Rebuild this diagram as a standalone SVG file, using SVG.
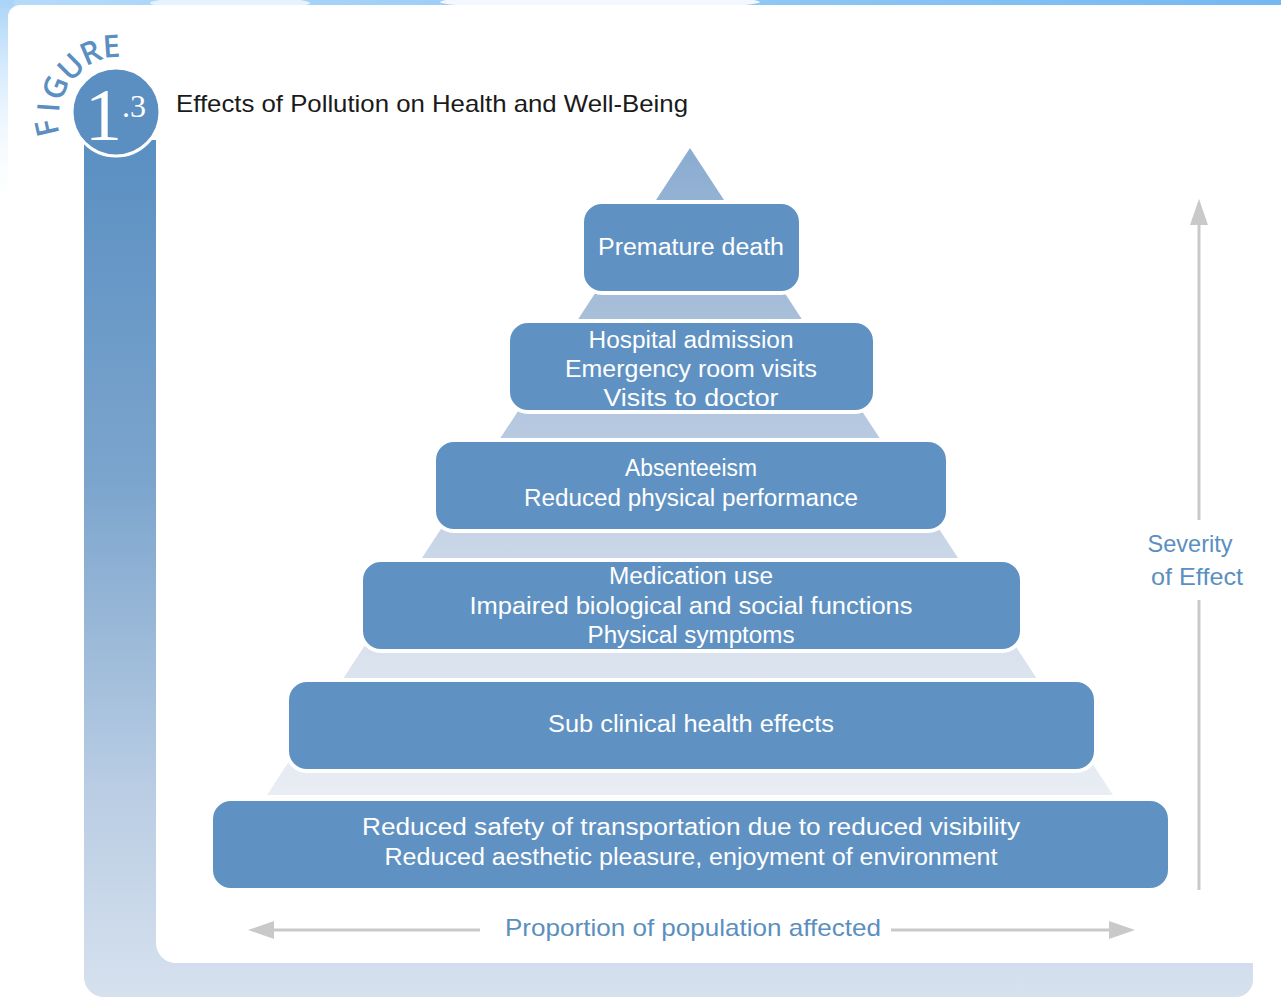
<svg xmlns="http://www.w3.org/2000/svg" width="1281" height="997" viewBox="0 0 1281 997">
  <defs>
    <linearGradient id="sky" x1="0" y1="0" x2="1" y2="0">
      <stop offset="0" stop-color="#b5dbfa"/>
      <stop offset="1" stop-color="#74b8f2"/>
    </linearGradient>
    <linearGradient id="skyLeft" x1="0" y1="0" x2="0" y2="1">
      <stop offset="0" stop-color="#a9d4f8"/>
      <stop offset="1" stop-color="#ffffff" stop-opacity="0"/>
    </linearGradient>
    <linearGradient id="bar" gradientUnits="userSpaceOnUse" x1="0" y1="140" x2="0" y2="997">
      <stop offset="0" stop-color="#5a8fc2"/>
      <stop offset="0.4" stop-color="#7ca5cd"/>
      <stop offset="0.75" stop-color="#b8cce3"/>
      <stop offset="1" stop-color="#d6e1ee"/>
    </linearGradient>
    <linearGradient id="pyr" gradientUnits="userSpaceOnUse" x1="0" y1="148" x2="0" y2="795">
      <stop offset="0" stop-color="#8aacd1"/>
      <stop offset="0.25" stop-color="#a7bed9"/>
      <stop offset="0.5" stop-color="#bccde2"/>
      <stop offset="0.75" stop-color="#d7e0ed"/>
      <stop offset="1" stop-color="#e9edf4"/>
    </linearGradient>
  </defs>
  <style>
    .box { fill: #5f92c2; stroke: #ffffff; stroke-width: 4; }
    .bt { font-family: "Liberation Sans", "DejaVu Sans", sans-serif; font-size: 23px; fill: #ffffff; text-anchor: middle; }
    .lbl { font-family: "Liberation Sans", "DejaVu Sans", sans-serif; font-size: 24px; fill: #5b8fc0; }
    .fig { font-family: "Open Sans", "Liberation Sans", sans-serif; font-size: 31px; font-weight: 600; fill: #5b8fc2; text-anchor: middle; }
    .axis { stroke: #c9c9c9; stroke-width: 3; fill: none; }
    .head { fill: #c9c9c9; }
  </style>

  <!-- background -->
  <rect x="0" y="0" width="1281" height="997" fill="#ffffff"/>
  <rect x="0" y="0" width="1281" height="8" fill="url(#sky)"/>
  <ellipse cx="230" cy="3" rx="80" ry="6" fill="#e6f3fd"/>
  <ellipse cx="600" cy="2" rx="160" ry="7" fill="#f2f8fe"/>
  <rect x="0" y="0" width="14" height="220" fill="url(#skyLeft)"/>
  <rect x="8" y="5" width="1290" height="1000" rx="12" fill="#ffffff"/>

  <!-- L-shaped figure bar -->
  <g id="figure-frame">
    <path d="M84,140 H156 V943 A20,20 0 0 0 176,963 H1253 V980 A17,17 0 0 1 1236,997 H104 A20,20 0 0 1 84,977 Z" fill="url(#bar)"/>
    <circle cx="116" cy="112" r="44" fill="#5b8fc2" stroke="#ffffff" stroke-width="3"/>
    <text x="85" y="140" font-family="Liberation Serif, DejaVu Serif, serif" font-size="74" fill="#ffffff">1<tspan font-size="32" dy="-23">.3</tspan></text>
    <text class="fig" transform="translate(46.8,128) rotate(257)" dy="0.36em">F</text>
    <text class="fig" transform="translate(48.2,107.3) rotate(274)" dy="0.36em">I</text>
    <text class="fig" transform="translate(54.8,87.3) rotate(292)" dy="0.36em">G</text>
    <text class="fig" transform="translate(70.7,66.7) rotate(315)" dy="0.36em">U</text>
    <text class="fig" transform="translate(90.6,52.2) rotate(337)" dy="0.36em">R</text>
    <text class="fig" transform="translate(111.4,46.1) rotate(356)" dy="0.36em">E</text>
  </g>

  <!-- title -->
  <text id="title" x="176" y="112" font-family="Liberation Sans, DejaVu Sans, sans-serif" font-size="24" fill="#1a1a1a" textLength="512" lengthAdjust="spacingAndGlyphs">Effects of Pollution on Health and Well-Being</text>

  <!-- pyramid background -->
  <g id="pyramid">
    <polygon points="690,148 267,795 1113,795" fill="url(#pyr)"/>
  </g>

  <g id="n1">
    <rect class="box" x="582" y="202" width="219" height="91" rx="20"/>
    <text class="bt" x="691" y="255" textLength="186" lengthAdjust="spacingAndGlyphs">Premature death</text>
  </g>
  <g id="n2">
    <rect class="box" x="508" y="321" width="367" height="91" rx="20"/>
    <text class="bt" x="691" y="348" textLength="205" lengthAdjust="spacingAndGlyphs">Hospital admission</text>
    <text class="bt" x="691" y="377" textLength="252" lengthAdjust="spacingAndGlyphs">Emergency room visits</text>
    <text class="bt" x="691" y="406" textLength="175" lengthAdjust="spacingAndGlyphs">Visits to doctor</text>
  </g>
  <g id="n3">
    <rect class="box" x="434" y="440" width="514" height="91" rx="20"/>
    <text class="bt" x="691" y="476" textLength="132" lengthAdjust="spacingAndGlyphs">Absenteeism</text>
    <text class="bt" x="691" y="506" textLength="334" lengthAdjust="spacingAndGlyphs">Reduced physical performance</text>
  </g>
  <g id="n4">
    <rect class="box" x="361" y="560" width="661" height="91" rx="20"/>
    <text class="bt" x="691" y="584" textLength="164" lengthAdjust="spacingAndGlyphs">Medication use</text>
    <text class="bt" x="691" y="614" textLength="443" lengthAdjust="spacingAndGlyphs">Impaired biological and social functions</text>
    <text class="bt" x="691" y="643" textLength="207" lengthAdjust="spacingAndGlyphs">Physical symptoms</text>
  </g>
  <g id="n5">
    <rect class="box" x="287" y="680" width="809" height="91" rx="20"/>
    <text class="bt" x="691" y="732" textLength="286" lengthAdjust="spacingAndGlyphs">Sub clinical health effects</text>
  </g>
  <g id="n6">
    <rect class="box" x="211" y="799" width="959" height="91" rx="20"/>
    <text class="bt" x="691" y="835" textLength="658" lengthAdjust="spacingAndGlyphs">Reduced safety of transportation due to reduced visibility</text>
    <text class="bt" x="691" y="865" textLength="613" lengthAdjust="spacingAndGlyphs">Reduced aesthetic pleasure, enjoyment of environment</text>
  </g>

  <!-- axes -->
  <g id="connectors">
    <line class="axis" x1="1199" y1="520" x2="1199" y2="222"/>
    <polygon class="head" points="1199,199 1208,225 1190,225"/>
    <line class="axis" x1="1199" y1="600" x2="1199" y2="890"/>
    <line class="axis" x1="480" y1="930" x2="270" y2="930"/>
    <polygon class="head" points="248,930 274,921 274,939"/>
    <line class="axis" x1="891" y1="930" x2="1112" y2="930"/>
    <polygon class="head" points="1135,930 1109,921 1109,939"/>
  </g>
  <g id="axis-labels">
    <text class="lbl" x="1190" y="552" text-anchor="middle" textLength="85" lengthAdjust="spacingAndGlyphs">Severity</text>
    <text class="lbl" x="1197" y="585" text-anchor="middle" textLength="92" lengthAdjust="spacingAndGlyphs">of Effect</text>
    <text class="lbl" x="505" y="936" textLength="376" lengthAdjust="spacingAndGlyphs">Proportion of population affected</text>
  </g>
</svg>
